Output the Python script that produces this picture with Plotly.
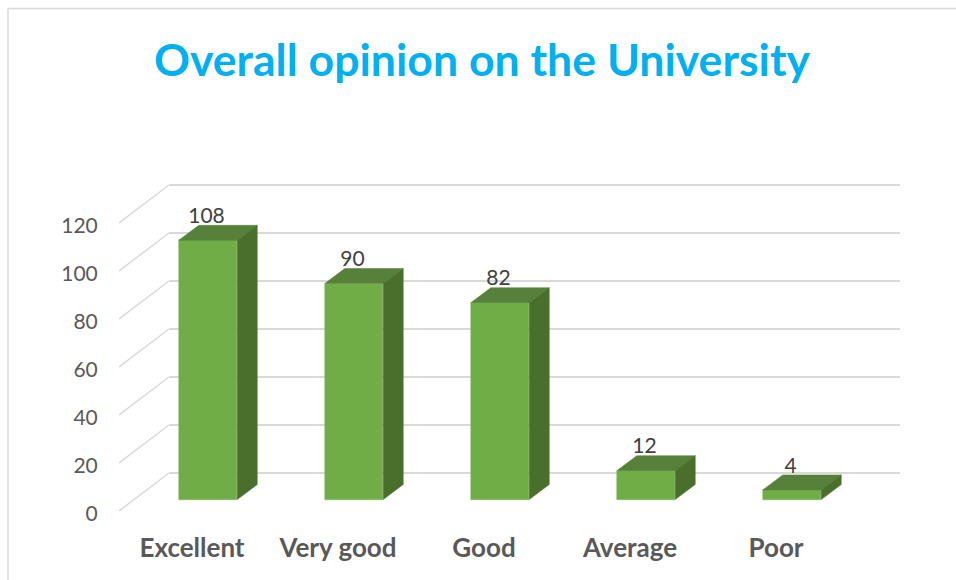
import plotly.graph_objects as go

TITLE = "Overall opinion on the University"
categories = ["Excellent", "Very good", "Good", "Average", "Poor"]
values = [108, 90, 82, 12, 4]
y_ticks = [0, 20, 40, 60, 80, 100, 120]

W, H = 956, 580
L, R, T, B = 119, 900, 175, 511      # plot area in page pixels
PX_PER_CAT = 146
PX_PER_UNIT = 2.4

# pseudo-3D geometry, converted to data units
wall_dx, wall_dy = 50 / PX_PER_CAT, 38 / PX_PER_UNIT
bar_dx, bar_dy = 20 / PX_PER_CAT, 15 / PX_PER_UNIT
bar_shift = 16 / PX_PER_CAT
floor = 11.5 / PX_PER_UNIT
bar_w = 58.5 / PX_PER_CAT

FRONT, TOP, SIDE = "#70AD47", "#57813A", "#4A6E2B"
GRID = "#D9D9D9"
BORDER = "#D9D9D9"

xs = [i + bar_shift for i in range(len(categories))]
fig = go.Figure()

fig.add_trace(go.Bar(
    x=xs, y=values, base=floor, width=bar_w,
    marker=dict(color=FRONT, line=dict(color="#7DB957", width=0.5)),
    hoverinfo="skip", showlegend=False,
))

for x, v in zip(xs, values):
    l, r = x - bar_w / 2, x + bar_w / 2
    top = floor + v
    fig.add_trace(go.Scatter(
        x=[l, r, r + bar_dx, l + bar_dx, l], y=[top, top, top + bar_dy, top + bar_dy, top],
        mode="lines", fill="toself", fillcolor=TOP, line=dict(color=TOP, width=0.5),
        hoverinfo="skip", showlegend=False,
    ))
    fig.add_trace(go.Scatter(
        x=[r, r + bar_dx, r + bar_dx, r, r], y=[floor, floor + bar_dy, top + bar_dy, top, floor],
        mode="lines", fill="toself", fillcolor=SIDE, line=dict(color=SIDE, width=0.5),
        hoverinfo="skip", showlegend=False,
    ))

fig.add_trace(go.Scatter(
    x=[x - 1.5 / PX_PER_CAT for x in xs],
    y=[floor + v + 22.5 / PX_PER_UNIT for v in values],
    mode="text", text=[str(v) for v in values], textposition="middle center",
    textfont=dict(family="Lato", size=21, color="#404040"),
    hoverinfo="skip", showlegend=False, cliponaxis=False,
))

x0 = -0.5
x_end = x0 + (R - L) / PX_PER_CAT
shapes = []
for t in y_ticks:
    shapes.append(dict(type="line", layer="below", xref="x", yref="y",
                       x0=x0, x1=x0 + wall_dx, y0=t, y1=t + wall_dy,
                       line=dict(color=GRID, width=1.5)))
    shapes.append(dict(type="line", layer="below", xref="x", yref="y",
                       x0=x0 + wall_dx, x1=x_end, y0=t + wall_dy, y1=t + wall_dy,
                       line=dict(color=GRID, width=2)))

px = lambda p: (p - L) / (R - L)
py = lambda p: (B - p) / (B - T)
shapes.append(dict(type="line", xref="paper", yref="paper", layer="below",
                   x0=px(8), x1=px(8), y0=py(8.5), y1=py(H),
                   line=dict(color=BORDER, width=1.5)))
shapes.append(dict(type="line", xref="paper", yref="paper", layer="below",
                   x0=px(8), x1=px(W), y0=py(8.5), y1=py(8.5),
                   line=dict(color=BORDER, width=1.5)))

fig.update_layout(
    width=W, height=H,
    margin=dict(l=L, r=W - R, t=T, b=H - B, pad=0),
    paper_bgcolor="white", plot_bgcolor="rgba(0,0,0,0)",
    showlegend=False, shapes=shapes, bargap=0,
    title=dict(text=f"<b>{TITLE}</b>", x=482 / W, xanchor="center", y=1 - 60 / H, yanchor="middle",
               font=dict(family="Lato", size=44.6, color="#00B0F0")),
    xaxis=dict(range=[x0, x_end], tickmode="array", tickvals=list(range(len(categories))),
               ticktext=[f"<b>{c}</b>" for c in categories], showgrid=False, zeroline=False,
               showline=False, ticks="outside", ticklen=14, tickcolor="rgba(0,0,0,0)", tickangle=0,
               tickfont=dict(family="Lato", size=26, color="#595959")),
    yaxis=dict(range=[0, (B - T) / PX_PER_UNIT], tickmode="array", tickvals=y_ticks,
               showgrid=False, zeroline=False, showline=False, ticks="outside", ticklen=16,
               tickcolor="rgba(0,0,0,0)", ticklabelshift=3,
               tickfont=dict(family="Lato", size=21, color="#595959")),
)

fig.write_html("out.html", config=dict(displayModeBar=False),
               post_script="document.body.style.margin='0';document.body.style.overflow='hidden';")
